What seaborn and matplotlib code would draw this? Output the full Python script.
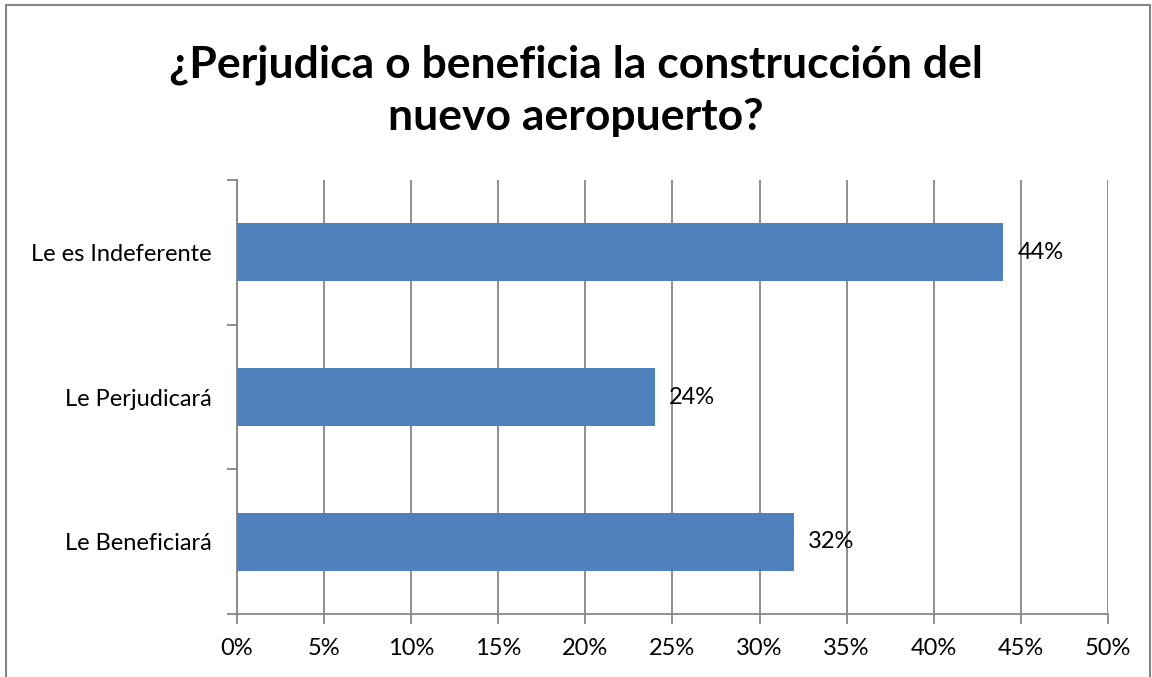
"""
plot.py

Horizontal bar chart: opinion on the new airport construction.
"""

import matplotlib

matplotlib.use("Agg")

import matplotlib.pyplot as plt
import pandas as pd
import seaborn as sns
from matplotlib.patches import Rectangle
from matplotlib.ticker import FuncFormatter, MultipleLocator

# =========================
# DATA
# =========================

categories = ["Le es Indeferente", "Le Perjudicará", "Le Beneficiará"]
values = [44, 24, 32]
title = "¿Perjudica o beneficia la construcción del\nnuevo aeropuerto?"

BAR_COLOR = "#4F81BD"
GRID_COLOR = "#868686"
LABEL_SIZE = 17

sns.set_theme(style="white")
plt.rcParams["font.family"] = ["Lato", "DejaVu Sans"]

df = pd.DataFrame({"categoria": categories, "valor": values})

fig = plt.figure(figsize=(11.52, 6.77), dpi=100)
ax = fig.add_axes([0.2057, 0.093, 0.756, 0.641])

sns.barplot(
    data=df,
    x="valor",
    y="categoria",
    order=categories,
    color=BAR_COLOR,
    saturation=1,
    width=0.4,
    linewidth=0,
    orient="h",
    ax=ax,
    zorder=3,
)

# value labels
for i, v in enumerate(values):
    ax.text(v + 0.8, i, f"{v}%", va="center", ha="left", fontsize=LABEL_SIZE,
            color="#000000", zorder=4)

ax.set_xlim(0, 50)
ax.set_ylim(2.5, -0.5)
ax.xaxis.set_major_locator(MultipleLocator(5))
ax.xaxis.set_major_formatter(FuncFormatter(lambda x, _: f"{x:.0f}%"))

# category boundary ticks on the y axis
ax.set_yticks([-0.5, 0.5, 1.5, 2.5], minor=False)
ax.set_yticklabels([])
ax.set_yticks([0, 1, 2], minor=True)
ax.set_yticklabels(categories, minor=True)
ax.tick_params(axis="y", which="major", direction="out", length=7,
               width=1.3, color=GRID_COLOR, left=True)
ax.tick_params(axis="y", which="minor", length=0, pad=18,
               labelsize=LABEL_SIZE, labelcolor="#000000")
ax.tick_params(axis="x", direction="out", length=7, width=1.3,
               color=GRID_COLOR, bottom=True, labelsize=LABEL_SIZE, pad=10,
               labelcolor="#000000")

ax.grid(axis="x", color=GRID_COLOR, linewidth=1.3, zorder=0)
ax.grid(axis="y", visible=False)
ax.set_axisbelow(True)

for side in ["top", "right"]:
    ax.spines[side].set_visible(False)
for side in ["left", "bottom"]:
    ax.spines[side].set_color(GRID_COLOR)
    ax.spines[side].set_linewidth(1.3)

ax.set_xlabel("")
ax.set_ylabel("")

fig.text(0.5, 0.866, title, ha="center", va="center", fontsize=32,
         fontweight="bold", linespacing=1.38, color="#000000")

# outer chart border
fig.patches.append(Rectangle((0.005, -0.05), 0.993, 1.042,
                             transform=fig.transFigure, fill=False,
                             edgecolor="#868686", linewidth=1.5))

fig.savefig("out.png", dpi=100)
plt.close(fig)
